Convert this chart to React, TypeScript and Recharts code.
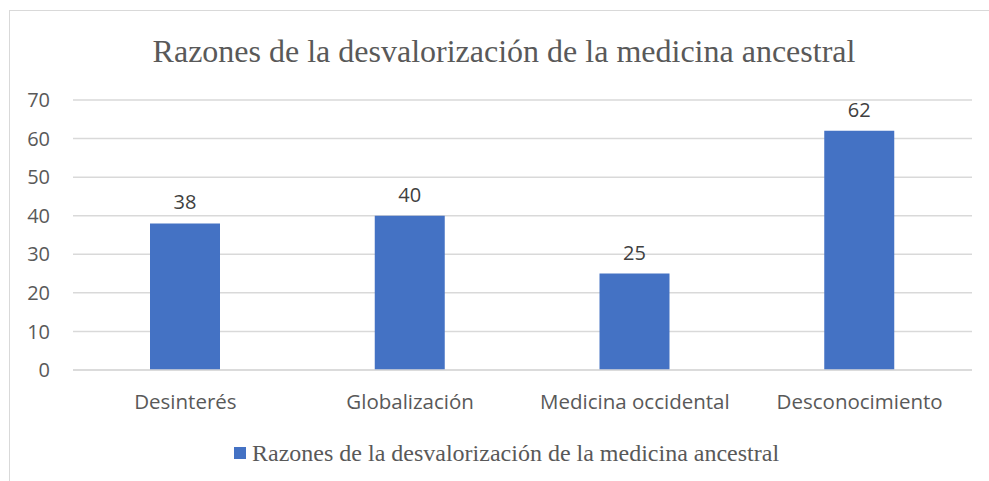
import React from "react";
import { BarChart, Bar, XAxis, YAxis, CartesianGrid, LabelList } from "recharts";

const categories = ["Desinterés", "Globalización", "Medicina occidental", "Desconocimiento"];
const values = [38, 40, 25, 62];
const yTicks = [0, 10, 20, 30, 40, 50, 60, 70];
const seriesName = "Razones de la desvalorización de la medicina ancestral";
const chartTitle = "Razones de la desvalorización de la medicina ancestral";

const data = categories.map((name, i) => ({ name, value: values[i] }));

const sans = "'Open Sans', sans-serif";
const serif = "'Liberation Serif', 'Times New Roman', serif";

export default function App() {
	return (
		<div style={{ position: "fixed", left: 0, top: 0, width: 989, height: 481, background: "#fff", overflow: "hidden" }}>
			<div
				style={{
					position: "absolute",
					left: 9,
					top: 10,
					width: 1000,
					height: 500,
					borderLeft: "1.5px solid #d9d9d9",
					borderTop: "1.5px solid #d9d9d9"
				}}
			/>
			<div
				style={{
					position: "absolute",
					left: 0,
					width: 1008,
					top: 33,
					textAlign: "center",
					fontFamily: serif,
					fontSize: 32,
					lineHeight: "36px",
					color: "#595959",
					whiteSpace: "nowrap"
				}}
			>
				{chartTitle}
			</div>
			<div style={{ position: "absolute", left: 0, top: 0 }}>
				<BarChart
					width={989}
					height={481}
					data={data}
					margin={{ top: 100, right: 17, left: 0, bottom: 71 }}
				>
					<CartesianGrid vertical={false} stroke="#d9d9d9" strokeWidth={1.5} />
					<XAxis
						dataKey="name"
						axisLine={{ stroke: "#d9d9d9", strokeWidth: 1.5 }}
						tickLine={false}
						tickSize={0}
						tickMargin={24}
						height={40}
						interval={0}
						tick={{ fill: "#595959", fontSize: 20.5, fontFamily: sans }}
					/>
					<YAxis
						domain={[0, 70]}
						ticks={yTicks}
						width={73}
						axisLine={false}
						tickLine={false}
						tickSize={0}
						tickMargin={23}
						tick={{ fill: "#595959", fontSize: 20, fontFamily: sans }}
					/>
					<Bar dataKey="value" name={seriesName} fill="#4472c4" barSize={70} isAnimationActive={false}>
						<LabelList
							dataKey="value"
							position="top"
							offset={14}
							style={{ fill: "#404040", fontSize: 20, fontFamily: sans }}
						/>
					</Bar>
				</BarChart>
			</div>
			<div
				style={{
					position: "absolute",
					left: 234,
					top: 438,
					display: "flex",
					alignItems: "center",
					fontFamily: serif,
					fontSize: 24,
					lineHeight: "30px",
					color: "#595959",
					whiteSpace: "nowrap"
				}}
			>
				<span style={{ display: "inline-block", width: 12, height: 12, background: "#4472c4", marginRight: 6 }} />
				{seriesName}
			</div>
		</div>
	);
}
